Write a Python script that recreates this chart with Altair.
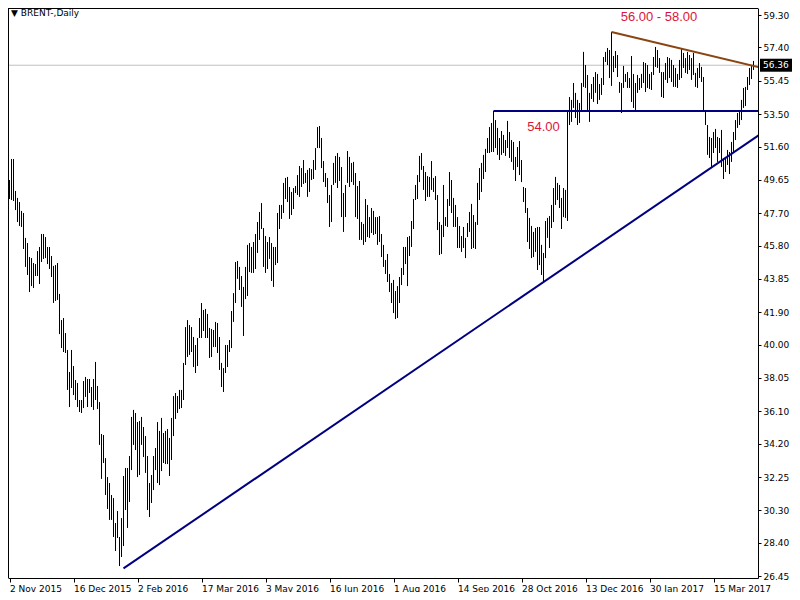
import altair as alt
import pandas as pd

# ---------------- data ----------------
date_labels = ["2 Nov 2015", "16 Dec 2015", "2 Feb 2016", "17 Mar 2016", "3 May 2016",
               "16 Jun 2016", "1 Aug 2016", "14 Sep 2016", "28 Oct 2016", "13 Dec 2016",
               "30 Jan 2017", "15 Mar 2017"]
tick_bars = [0, 32, 64, 96, 128, 160, 192, 224, 256, 288, 320, 352]
y_ticks = [26.45, 28.40, 30.30, 32.25, 34.20, 36.10, 38.05, 40.00, 41.90, 43.85,
           45.80, 47.70, 49.65, 51.60, 53.50, 55.45, 57.40, 59.30]

highs = [
    49.64, 50.87, 50.87, 49.00, 48.59, 48.35, 47.83, 47.71, 46.25, 45.95,
    45.13, 45.07, 44.78, 44.72, 45.48, 45.72, 46.48, 46.48, 46.30, 45.72,
    45.72, 45.19, 44.61, 44.66, 44.78, 42.97, 41.44, 41.56, 40.68, 39.69,
    38.40, 39.69, 38.75, 37.93, 37.76, 36.76, 36.76, 37.87, 38.11, 37.99,
    37.99, 37.52, 37.99, 38.99, 37.58, 36.64, 34.77, 34.71, 33.36, 32.25,
    31.90, 31.20, 31.02, 29.56, 30.26, 28.74, 29.85, 32.31, 32.78, 32.78,
    33.48, 35.77, 36.18, 36.00, 35.47, 35.53, 35.77, 35.18, 34.65, 33.48,
    31.90, 32.37, 33.48, 33.95, 35.47, 34.95, 35.71, 34.83, 34.95, 35.06,
    34.54, 35.71, 36.99, 37.17, 36.99, 37.35, 37.35, 38.93, 41.03, 41.44,
    41.15, 41.03, 40.45, 39.98, 40.39, 41.56, 42.44, 42.03, 42.09, 41.80,
    40.98, 40.92, 40.86, 41.33, 41.27, 40.45, 38.93, 38.63, 39.98, 39.98,
    40.27, 41.97, 43.02, 44.84, 44.90, 44.55, 44.02, 43.38, 44.55, 45.84,
    45.95, 45.72, 46.01, 46.48, 47.18, 47.77, 48.29, 46.83, 46.36, 46.01,
    46.30, 45.95, 45.72, 45.72, 47.71, 48.18, 48.18, 49.47, 49.76, 49.82,
    49.23, 48.94, 49.17, 49.29, 49.93, 50.46, 50.34, 50.81, 50.05, 50.23,
    50.34, 50.28, 50.81, 51.51, 52.74, 52.80, 52.10, 50.75, 50.05, 49.76,
    48.76, 49.35, 50.64, 51.05, 51.22, 50.99, 50.40, 48.88, 49.35, 51.34,
    50.99, 50.64, 50.70, 50.05, 49.29, 49.58, 47.18, 47.07, 48.53, 48.18,
    47.47, 48.00, 47.83, 47.47, 47.47, 47.53, 46.48, 45.84, 44.96, 45.31,
    44.14, 43.61, 43.79, 43.14, 43.43, 43.96, 44.49, 45.72, 45.72, 46.30,
    46.36, 47.24, 48.53, 49.35, 49.93, 51.05, 51.22, 50.46, 50.11, 49.87,
    49.82, 50.75, 49.76, 49.87, 48.76, 47.18, 47.01, 49.35, 47.47, 48.53,
    50.11, 49.64, 48.59, 48.18, 47.47, 46.95, 46.36, 46.89, 46.25, 47.12,
    47.77, 48.24, 47.59, 47.18, 49.47, 50.34, 50.64, 51.11, 51.46, 52.10,
    52.74, 52.98, 53.68, 53.15, 52.69, 52.10, 52.51, 52.28, 51.98, 53.10,
    52.45, 51.98, 51.87, 50.99, 51.57, 51.92, 50.81, 49.23, 49.17, 48.00,
    47.42, 46.95, 46.60, 46.83, 46.89, 46.89, 45.84, 45.37, 47.24, 47.42,
    47.53, 48.18, 49.17, 49.82, 49.47, 49.35, 48.59, 49.17, 49.06, 53.74,
    54.50, 54.33, 55.32, 54.74, 54.33, 54.15, 55.32, 57.14, 56.37, 55.79,
    54.74, 55.26, 55.67, 55.96, 55.85, 55.26, 55.61, 56.84, 57.14, 57.37,
    57.25, 58.31, 56.90, 57.19, 56.96, 55.38, 55.32, 56.32, 55.85, 55.96,
    55.61, 56.90, 55.85, 55.32, 55.79, 55.61, 55.85, 56.55, 56.49, 56.37,
    55.85, 55.96, 56.84, 57.43, 57.25, 56.78, 55.96, 55.96, 56.49, 56.84,
    56.78, 56.67, 56.37, 56.20, 55.85, 56.67, 57.31, 57.08, 56.78, 57.14,
    56.96, 56.78, 57.08, 55.91, 56.20, 56.49, 56.26, 55.67, 53.74, 52.86,
    52.16, 52.10, 52.45, 52.63, 52.16, 52.10, 52.57, 50.93, 50.99, 51.40,
    51.28, 51.87, 52.45, 53.15, 53.56, 53.74, 54.33, 55.03, 55.09, 55.67,
    56.20, 56.32, 56.61,
]

lows = [
    48.53, 48.47, 48.41, 47.88, 47.18, 46.95, 46.89, 45.60, 44.55, 44.08,
    43.08, 43.43, 43.32, 44.02, 44.02, 43.55, 44.84, 45.02, 45.07, 44.72,
    44.43, 43.96, 42.44, 42.56, 42.62, 40.62, 39.80, 39.57, 39.51, 37.35,
    36.35, 37.46, 37.05, 36.76, 36.35, 36.06, 36.00, 36.29, 36.94, 36.35,
    37.17, 36.35, 36.18, 36.76, 36.23, 34.13, 32.14, 33.07, 31.20, 30.38,
    29.74, 29.74, 28.74, 27.92, 28.68, 27.04, 27.57, 28.21, 30.32, 29.27,
    30.79, 32.66, 34.13, 33.83, 32.25, 32.37, 34.13, 33.42, 32.49, 30.32,
    29.91, 30.73, 31.49, 32.66, 31.90, 31.78, 32.60, 33.07, 33.01, 33.01,
    32.31, 33.25, 34.65, 35.65, 36.00, 36.23, 36.29, 36.76, 38.81, 39.28,
    39.40, 39.57, 38.69, 38.34, 38.75, 40.39, 40.39, 40.80, 40.39, 40.39,
    39.22, 39.28, 39.86, 39.86, 39.51, 38.52, 37.52, 37.23, 38.34, 38.69,
    39.57, 39.80, 41.33, 42.44, 43.85, 43.20, 42.21, 40.51, 42.67, 42.85,
    44.25, 44.20, 44.20, 44.43, 45.37, 46.13, 46.77, 44.55, 44.20, 44.43,
    45.02, 43.73, 43.38, 44.66, 44.78, 46.77, 47.36, 47.71, 48.53, 48.35,
    47.36, 47.59, 47.94, 48.88, 48.76, 48.65, 49.23, 49.41, 49.47, 48.65,
    48.94, 49.64, 49.70, 50.23, 51.51, 51.51, 50.34, 49.52, 49.23, 48.29,
    46.89, 47.18, 49.35, 49.47, 49.17, 49.58, 47.47, 46.60, 47.47, 49.47,
    49.23, 49.52, 49.35, 47.47, 47.36, 46.13, 46.13, 45.84, 46.01, 46.30,
    46.25, 46.54, 46.42, 46.48, 45.84, 46.01, 45.13, 44.55, 44.14, 43.67,
    43.08, 42.44, 41.85, 41.50, 41.56, 42.44, 43.49, 44.08, 44.72, 43.43,
    45.19, 45.72, 46.77, 48.47, 48.53, 49.52, 50.23, 49.06, 48.41, 48.65,
    48.65, 49.06, 48.94, 48.47, 46.71, 45.25, 45.31, 46.30, 46.95, 46.89,
    48.12, 47.71, 46.89, 46.89, 45.66, 45.66, 45.43, 45.66, 45.07, 46.30,
    46.60, 45.60, 45.66, 45.60, 47.01, 48.47, 48.94, 49.70, 50.11, 51.22,
    51.22, 51.28, 51.28, 51.51, 51.11, 50.81, 51.11, 51.22, 51.05, 51.51,
    50.93, 50.70, 50.23, 49.58, 50.40, 49.93, 49.52, 48.35, 47.71, 46.01,
    45.60, 45.07, 45.13, 45.43, 44.37, 44.66, 44.08, 43.61, 45.07, 46.25,
    45.66, 46.83, 47.18, 48.18, 48.47, 48.00, 46.77, 47.47, 47.42, 47.24,
    52.86, 53.04, 53.86, 53.27, 52.86, 52.98, 53.62, 55.09, 55.03, 53.74,
    53.04, 54.38, 54.21, 54.74, 54.09, 54.33, 54.62, 55.20, 56.55, 56.37,
    55.61, 55.15, 55.96, 56.20, 55.67, 54.74, 53.56, 55.03, 55.38, 55.03,
    55.03, 54.21, 53.86, 53.74, 54.74, 54.91, 55.03, 55.32, 54.79, 55.03,
    54.97, 54.91, 55.79, 56.26, 56.20, 55.91, 54.50, 54.44, 55.50, 55.32,
    55.61, 55.38, 55.09, 55.09, 55.03, 55.50, 55.61, 56.20, 55.91, 55.85,
    56.08, 55.50, 55.79, 55.09, 55.03, 55.61, 55.38, 53.74, 52.86, 51.11,
    50.93, 50.34, 51.22, 51.51, 50.70, 51.22, 50.40, 49.70, 50.11, 50.52,
    49.99, 50.70, 51.22, 51.98, 52.69, 52.86, 53.15, 53.86, 53.97, 54.91,
    55.20, 55.55, 56.08,
]

# trend / level lines (bar index, price)
trend_i = [57, 377]
trend_p = [26.90, 52.45]
level_i = [242, 377]
level_p = [53.68, 53.68]
brown_i = [301, 377]
brown_p = [58.31, 56.18]

current_price = [56.36]

ann_i = [324.75, 267]
ann_p = [59.21, 52.74]
ann_t = ["56.00 - 58.00", "54.00"]

title_text = ["\u25bc BRENT-,Daily"]

# ---------------- chart ----------------
W, H = 750, 570
FONT = "DejaVu Sans"

xs = alt.Scale(domain=[-0.75, 374.25], nice=False, zero=False)
ys = alt.Scale(domain=[26.34, 59.71], nice=False, zero=False)

label_expr = "[" + ",".join("'%s'" % d for d in date_labels) + "][round(datum.value / 32)]"

x_axis = alt.Axis(values=tick_bars, labelExpr=label_expr, title=None, grid=False,
                  domain=True, domainColor="black", tickColor="black", tickSize=4,
                  labelAlign="left", labelBaseline="top", labelPadding=2,
                  labelFont=FONT, labelFontSize=9, labelColor="black",
                  labelOverlap=False, labelFlush=False)
y_axis = alt.Axis(orient="right", values=y_ticks, format=".2f", title=None, grid=False,
                  domain=True, domainColor="black", tickColor="black", tickSize=3,
                  labelPadding=2, labelFont=FONT, labelFontSize=9, labelColor="black",
                  labelOverlap=False, labelFlush=False)


def X(field):
    return alt.X(field, type="quantitative", scale=xs, axis=x_axis)


def Y(field):
    return alt.Y(field, type="quantitative", scale=ys, axis=y_axis)


bars = pd.DataFrame({"i": list(range(len(highs))), "high": highs, "low": lows})
cur = pd.DataFrame({"p": current_price, "t": ["%.2f" % v for v in current_price]})

grey = alt.Chart(cur).mark_rule(color="#C0C0C0", strokeWidth=1).encode(y=Y("p"))

bar_layer = alt.Chart(bars).mark_rule(color="black", strokeWidth=1).encode(
    x=X("i"), y=Y("high"), y2="low"
)

trend = alt.Chart(pd.DataFrame({"i": trend_i, "p": trend_p})).mark_line(
    color="#000080", strokeWidth=2, clip=True).encode(x=X("i"), y=Y("p"))
level = alt.Chart(pd.DataFrame({"i": level_i, "p": level_p})).mark_line(
    color="#000080", strokeWidth=2, clip=True).encode(x=X("i"), y=Y("p"))
brown = alt.Chart(pd.DataFrame({"i": brown_i, "p": brown_p})).mark_line(
    color="#8B4513", strokeWidth=2, clip=True).encode(x=X("i"), y=Y("p"))

ann = alt.Chart(pd.DataFrame({"i": ann_i, "p": ann_p, "t": ann_t})).mark_text(
    color="#DC143C", font="Liberation Sans", fontSize=13, align="center", baseline="middle"
).encode(x=X("i"), y=Y("p"), text="t:N")

title = alt.Chart(pd.DataFrame({"t": title_text})).mark_text(
    font=FONT, fontSize=9, color="black", align="left", baseline="middle"
).encode(x=alt.value(3), y=alt.value(5), text="t:N")

frame_left = alt.Chart(cur).mark_rule(color="black", strokeWidth=1).encode(
    x=alt.value(0.5), y=alt.value(0), y2=alt.value(H))
frame_top = alt.Chart(cur).mark_rule(color="black", strokeWidth=1).encode(
    x=alt.value(0), x2=alt.value(W), y=alt.value(0.5))

price_box = alt.Chart(cur).mark_tick(
    orient="horizontal", size=32, thickness=13, color="black", opacity=1
).encode(x=alt.value(768), y=Y("p"))
price_txt = alt.Chart(cur).mark_text(
    font=FONT, fontSize=9, color="white", align="left", baseline="middle"
).encode(x=alt.value(755), y=Y("p"), text="t:N")

chart = alt.layer(
    grey, bar_layer, trend, level, brown, ann, title, frame_left, frame_top,
    price_box, price_txt
).properties(
    width=W, height=H,
    padding={"left": 0, "top": 0, "right": 34, "bottom": 14},
    autosize=alt.AutoSizeParams(type="none"),
    background="white",
).configure_view(stroke=None)

chart.save("out.html", embed_options={"renderer": "svg", "actions": False})
